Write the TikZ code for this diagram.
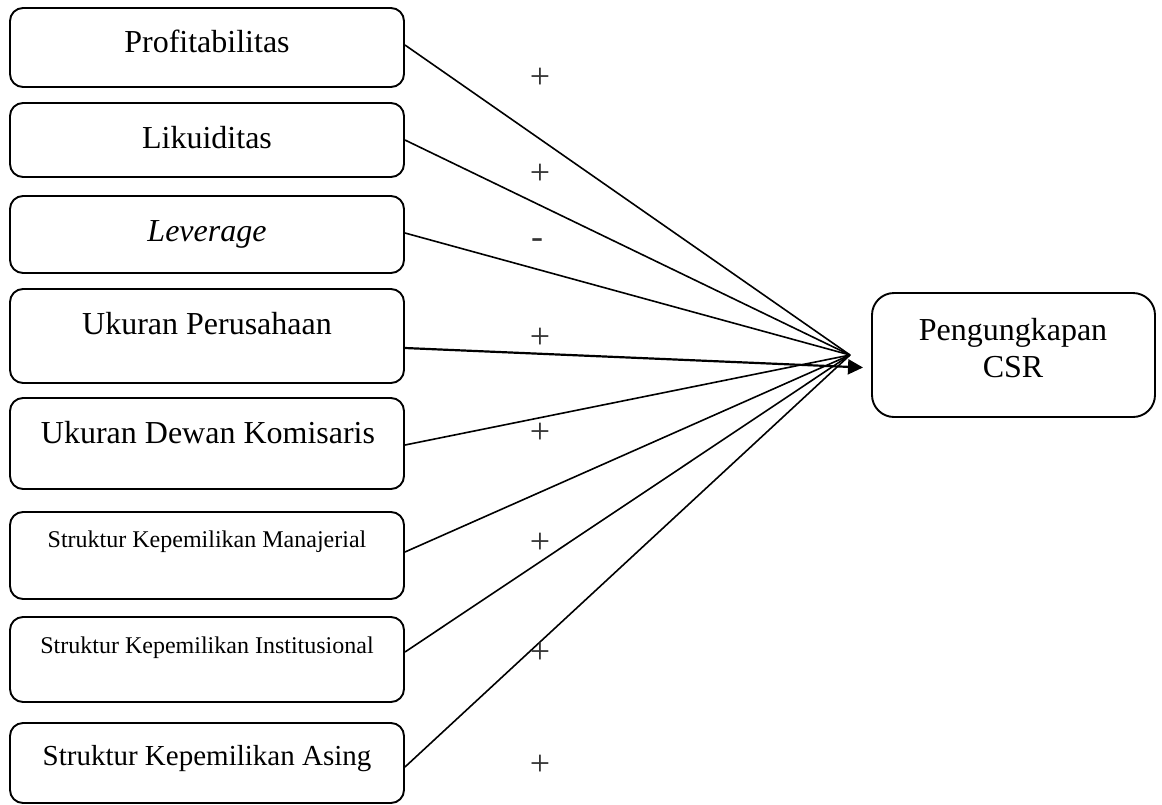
\documentclass[tikz,border=0pt]{standalone}
\usepackage{fontspec}
\setmainfont{Liberation Serif}
\usetikzlibrary{arrows.meta}
\begin{document}
\begin{tikzpicture}[x=1pt,y=-1pt,
  varbox/.style={draw, line width=1.9pt, rounded corners=13pt, minimum width=394pt, inner sep=0pt},
  big/.style={font=\fontsize{32}{36}\selectfont, inner sep=0pt, anchor=base},
  small/.style={font=\fontsize{24}{28}\selectfont, inner sep=0pt, anchor=base},
  sign/.style={font=\fontsize{36}{40}\selectfont, inner sep=0pt, text=black!80},
  conn/.style={line width=1.6pt}]
\useasboundingbox (0,0) rectangle (1162,804);
% boxes
\node[varbox, minimum height=79pt] (b1) at (207,47.5) {};
\node[varbox, minimum height=74pt] (b2) at (207,140) {};
\node[varbox, minimum height=77pt] (b3) at (207,234.5) {};
\node[varbox, minimum height=94pt] (b4) at (207,336) {};
\node[varbox, minimum height=91pt] (b5) at (207,443.5) {};
\node[varbox, minimum height=87pt] (b6) at (207,555.5) {};
\node[varbox, minimum height=85pt] (b7) at (207,659.5) {};
\node[varbox, minimum height=80pt] (b8) at (207,763) {};
\node[draw, line width=1.9pt, rounded corners=22pt, minimum width=283pt, minimum height=124pt, inner sep=0pt] (y) at (1013.5,355) {};
% texts
\node[big] (t1) at (207,52) {Profitabilitas};
\node[big] (t2) at (207,148) {Likuiditas};
\node[big] (t3) at (207,241) {\textit{Leverage}};
\node[big] (t4) at (207,334) {Ukuran Perusahaan};
\node[big] (t5) at (208,443) {Ukuran Dewan Komisaris};
\node[small] (t6) at (207,547) {Struktur Kepemilikan Manajerial};
\node[small] (t7) at (207,653) {Struktur Kepemilikan Institusional};
\node[big, font=\fontsize{29}{33}\selectfont] (t8) at (207,765) {Struktur Kepemilikan Asing};
\node[big] (ty1) at (1013,340) {Pengungkapan};
\node[big] (ty2) at (1013,377) {CSR};
% convergence point
\coordinate (c) at (850,355);
\coordinate (tip) at (863,367.5);
\draw[conn] (b1.east |- 0,45) -- (c);
\draw[conn] (b2.east |- 0,140) -- (c);
\draw[conn] (b3.east |- 0,233) -- (c);
\draw[conn] (b5.east |- 0,445) -- (c);
\draw[conn] (b6.east |- 0,552) -- (c);
\draw[conn] (b7.east |- 0,652) -- (c);
\draw[conn] (b8.east |- 0,767) -- (c);
\draw[line width=2.2pt, -{Triangle[length=15pt,width=15pt]}] (b4.east |- 0,348) -- (tip);
% signs
\node[sign] (s1) at (540,78) {+};
\node[sign] (s2) at (540,174) {+};
\node[sign] (s3) at (537,244) {-};
\node[sign] (s4) at (540,338) {+};
\node[sign] (s5) at (540,433) {+};
\node[sign] (s6) at (540,543) {+};
\node[sign] (s7) at (540,653) {+};
\node[sign] (s8) at (540,765) {+};
\end{tikzpicture}
\end{document}
